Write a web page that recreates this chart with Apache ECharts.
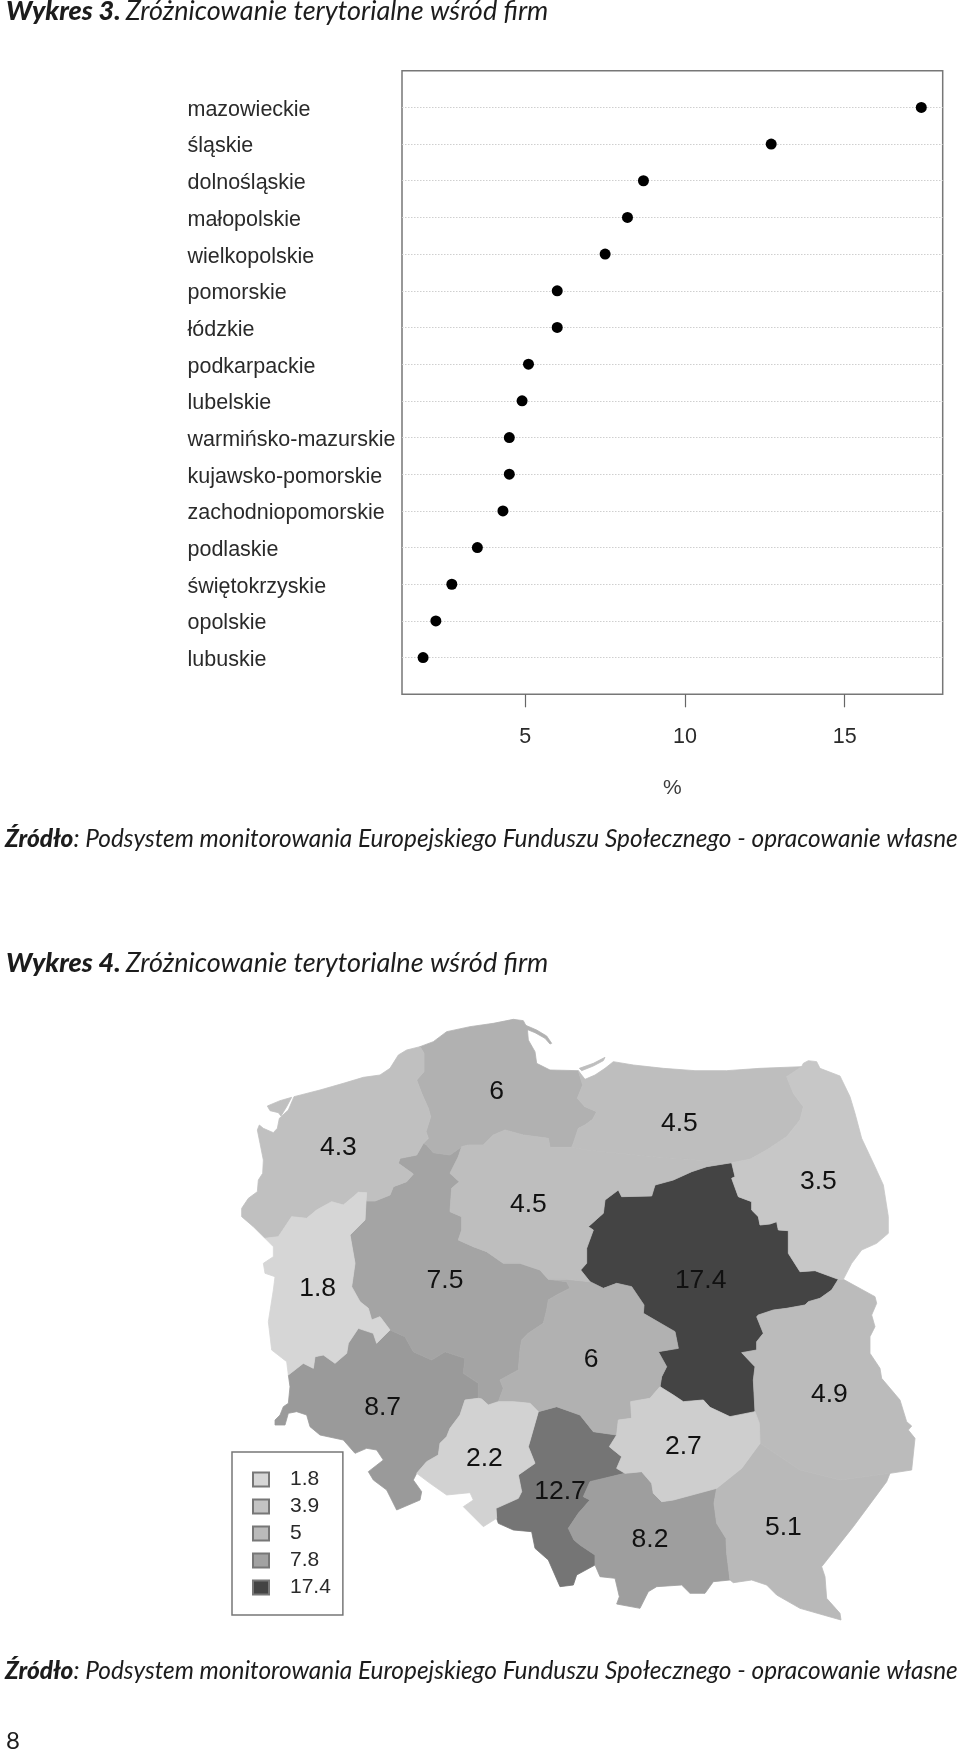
<!DOCTYPE html>
<html><head><meta charset="utf-8">
<style>html,body{margin:0;padding:0;background:#fff}#c{width:960px;height:1751px}</style>
<script src="https://cdn.jsdelivr.net/npm/echarts@6/dist/echarts.min.js"></script>
</head><body><div id="c"></div>
<script>
// ---- data ----
const regions = ['mazowieckie','śląskie','dolnośląskie','małopolskie','wielkopolskie','pomorskie','łódzkie','podkarpackie','lubelskie','warmińsko-mazurskie','kujawsko-pomorskie','zachodniopomorskie','podlaskie','świętokrzyskie','opolskie','lubuskie'];
const shares  = [17.4,12.7,8.7,8.2,7.5,6,6,5.1,4.9,4.5,4.5,4.3,3.5,2.7,2.2,1.8];
const xTicks = [5,10,15];
const legendValues = ['1.8','3.9','5','7.8','17.4'];
const titleA = 'Wykres 3.', titleB = 'Wykres 4.', titleRest = 'Zróżnicowanie terytorialne wśród firm';
const sourceHead = 'Źródło', sourceRest = ': Podsystem monitorowania Europejskiego Funduszu Społecznego - opracowanie własne';

// ---- value to grey scale ----
const scaleValues = [1.8,5.1,8.7,12.7,17.4];
const scaleGreys  = [214,185,154,117,68];
function grey(v){
  let i=0; while(i<scaleValues.length-2 && v>scaleValues[i+1]) i++;
  const t=(v-scaleValues[i])/(scaleValues[i+1]-scaleValues[i]);
  const g=Math.round(scaleGreys[i]+t*(scaleGreys[i+1]-scaleGreys[i]));
  return 'rgb('+g+','+g+','+g+')';
}

// ---- map outline: shared borders in map units (3 units = 1 px) ----
const arcs = {
 coastZ:[[600,140],[560,150],[535,165],[510,205],[480,225],[430,232],[370,250],[300,270],[222,290],[205,330],[178,355],[172,385],[160,398],[130,385],[118,375],[112,390],[120,430],[130,480],[128,520],[115,540],[112,575],[85,595],[65,625],[65,650],[100,680],[135,715]],
 zl:[[135,715],[175,710],[195,680],[215,650],[260,655],[290,630],[335,605],[370,615],[400,590],[415,577],[440,578],[438,603]],
 zw:[[438,603],[465,603],[510,585],[520,560],[560,545],[580,522],[535,490],[540,475],[590,465],[610,430]],
 zp:[[610,430],[625,415],[618,395],[632,350],[625,325],[605,280],[590,240],[612,215],[612,160],[600,140]],
 coastP:[[600,140],[640,125],[680,95],[750,80],[820,70],[880,58],[910,62],[922,85],[925,120],[945,155],[950,190],[990,210],[1075,212]],
 pm:[[1075,212],[1088,255],[1072,295],[1095,320],[1130,335],[1118,358],[1095,375],[1075,385],[1060,430],[1055,442]],
 pk:[[1055,442],[990,442],[985,415],[910,405],[855,390],[820,405],[790,435],[745,435],[725,440]],
 pw:[[725,440],[690,465],[640,458],[620,435],[610,430]],
 coastM:[[1075,212],[1095,238],[1125,225],[1155,205],[1180,185],[1240,195],[1330,205],[1425,212],[1520,212],[1620,205],[1745,200]],
 mp:[[1745,200],[1700,230],[1720,280],[1750,320],[1740,360],[1700,410],[1640,450],[1590,478],[1535,488]],
 kw:[[1535,488],[1300,470],[1100,450],[1055,442]],
 outerPd:[[1745,200],[1750,190],[1765,182],[1790,185],[1800,205],[1860,228],[1890,290],[1905,340],[1925,415],[1965,500],[1990,555],[2005,650],[2005,700],[1970,730],[1925,750],[1895,790],[1870,838],[1855,838]],
 md:[[1535,488],[1545,530],[1535,535],[1555,590],[1595,605],[1595,630],[1615,650],[1620,675],[1650,672],[1670,665],[1675,690],[1705,692],[1705,760],[1740,815],[1785,812],[1855,838]],
 mlb:[[1855,838],[1835,870],[1800,895],[1765,905],[1755,915],[1700,925],[1660,930],[1615,945],[1610,950],[1630,1000],[1610,1025],[1610,1050],[1565,1058],[1605,1100],[1600,1140],[1605,1235]],
 ms:[[1605,1235],[1530,1250],[1470,1222],[1450,1200],[1390,1205],[1360,1185],[1320,1160]],
 ml:[[1320,1160],[1325,1130],[1340,1100],[1315,1055],[1375,1045],[1365,995],[1270,940],[1272,915],[1235,860],[1190,850],[1150,865],[1110,845]],
 mk:[[1110,845],[1082,810],[1100,790],[1100,745],[1120,690],[1105,680],[1150,640],[1155,600],[1195,570],[1205,590],[1295,588],[1305,555],[1360,540],[1415,515],[1460,500],[1535,488]],
 kl:[[1110,845],[1040,838],[985,838]],
 kwk:[[725,440],[715,470],[690,520],[718,545],[695,565],[690,635],[725,650],[725,690],[715,720],[760,740],[800,755],[850,790],[900,790],[960,810],[985,838]],
 wl:[[985,838],[1040,845],[1050,865],[1010,885],[985,900],[980,930],[970,970],[925,1000],[905,1020],[900,1050],[895,1110],[840,1140],[850,1165],[835,1205]],
 wo:[[835,1205],[805,1215],[785,1197],[775,1195]],
 wd:[[510,990],[555,1010],[580,1055],[635,1080],[675,1055],[735,1075],[730,1120],[775,1150],[775,1195]],
 lw:[[438,603],[435,660],[390,705],[405,790],[395,860],[420,905],[445,925],[455,960],[480,950],[510,990]],
 lo:[[835,1205],[880,1205],[930,1210],[955,1235]],
 dop:[[775,1195],[735,1200],[720,1245],[690,1285],[680,1310],[660,1330],[655,1365],[620,1385],[590,1420]],
 outerO:[[590,1420],[630,1450],[680,1485],[750,1478],[760,1500],[730,1520],[760,1550],[790,1580],[830,1555]],
 os:[[830,1555],[828,1525],[895,1495],[905,1475],[895,1425],[945,1390],[925,1340],[955,1235]],
 outerS:[[830,1555],[835,1570],[880,1590],[935,1595],[945,1645],[985,1680],[1020,1760],[1060,1755],[1070,1725],[1125,1695]],
 slml:[[1125,1695],[1125,1665],[1080,1635],[1062,1620],[1045,1585],[1075,1540],[1110,1500],[1090,1490],[1110,1445],[1215,1420]],
 slsw:[[1215,1420],[1190,1405],[1205,1370],[1168,1340],[1190,1305]],
 lsl:[[955,1235],[1010,1220],[1080,1245],[1120,1295],[1190,1305]],
 lsw:[[1190,1305],[1195,1260],[1235,1255],[1232,1205],[1290,1195],[1320,1160]],
 swml:[[1215,1420],[1265,1415],[1295,1450],[1300,1480],[1325,1505],[1360,1500],[1490,1465]],
 swpk:[[1490,1465],[1565,1405],[1620,1330]],
 swlb:[[1620,1330],[1618,1270],[1605,1235]],
 outerLb:[[1855,838],[1870,838],[1965,890],[1970,910],[1955,945],[1965,980],[1950,1010],[1950,1060],[1980,1105],[1985,1135],[2040,1200],[2060,1265],[2075,1278],[2065,1290],[2085,1315],[2075,1410],[2010,1420]],
 lbpk:[[2010,1420],[1860,1440],[1740,1410],[1620,1330]],
 outerPk:[[2010,1420],[2000,1445],[1900,1580],[1805,1700],[1815,1730],[1820,1795],[1860,1840],[1863,1860],[1810,1845],[1740,1825],[1670,1785],[1640,1755],[1595,1740],[1540,1748],[1530,1740]],
 pkml:[[1530,1740],[1520,1660],[1518,1615],[1490,1570],[1482,1510],[1490,1465]],
 outerMl:[[1530,1740],[1480,1745],[1455,1780],[1410,1780],[1385,1755],[1310,1760],[1285,1775],[1260,1825],[1190,1812],[1198,1790],[1185,1735],[1140,1730],[1125,1695]],
 outerL:[[135,715],[160,740],[160,770],[130,790],[135,820],[165,830],[160,870],[145,965],[155,1050],[200,1085],[205,1125]],
 ld:[[205,1125],[250,1090],[280,1105],[285,1070],[310,1065],[345,1090],[380,1060],[385,1030],[415,985],[460,1000],[470,1030],[510,990]],
 outerD:[[205,1125],[210,1160],[205,1210],[190,1220],[180,1245],[165,1260],[165,1275],[195,1275],[205,1240],[230,1235],[260,1245],[270,1280],[300,1305],[370,1320],[405,1360],[440,1345],[470,1350],[490,1380],[445,1415],[460,1440],[500,1470],[530,1530],[600,1500],[605,1475],[580,1440],[590,1420]]
};
const islands = {
 'zachodniopomorskie':[[[215,292],[180,302],[142,318],[150,332],[175,338],[183,348],[200,320]]],
 'pomorskie':[[[915,75],[950,90],[980,108],[995,130],[990,132],[975,115],[945,98],[920,88]]],
 'warmińsko-mazurskie':[[[1078,205],[1120,190],[1155,172],[1150,182],[1120,198],[1085,212]]]
};
// "-" means the border is walked backwards
const rings = {
 'zachodniopomorskie':['coastZ','zl','zw','zp'],
 'pomorskie':['coastP','pm','pk','pw','zp'],
 'warmińsko-mazurskie':['coastM','mp','kw','-pm'],
 'podlaskie':['outerPd','-md','-mp'],
 'kujawsko-pomorskie':['-pk','-kw','-mk','kl','-kwk'],
 'wielkopolskie':['-zw','lw','wd','-wo','-wl','-kwk','pw'],
 'lubuskie':['-zl','outerL','ld','-lw'],
 'dolnośląskie':['-ld','outerD','-dop','-wd'],
 'opolskie':['dop','outerO','os','-lo','wo'],
 'łódzkie':['-kl','-ml','-lsw','-lsl','-lo','-wl'],
 'mazowieckie':['md','mlb','ms','ml','mk'],
 'lubelskie':['outerLb','lbpk','-swlb','-mlb'],
 'podkarpackie':['-lbpk','outerPk','pkml','swpk'],
 'świętokrzyskie':['-ms','-swlb','-swpk','-swml','slsw','lsw'],
 'małopolskie':['swml','-pkml','outerMl','slml'],
 'śląskie':['-os','outerS','slml','slsw','-lsl']
};
const labelPoints = {
 'zachodniopomorskie':[355,443],'pomorskie':[830,275],'warmińsko-mazurskie':[1378,371],'podlaskie':[1795,545],
 'kujawsko-pomorskie':[925,615],'wielkopolskie':[675,841],'lubuskie':[293,865],'mazowieckie':[1442,841],
 'dolnośląskie':[488,1223],'łódzkie':[1113,1078],'lubelskie':[1828,1183],'opolskie':[793,1375],
 'świętokrzyskie':[1390,1340],'śląskie':[1020,1475],'małopolskie':[1290,1620],'podkarpackie':[1690,1583]
};
const flip = p => [p[0], -p[1]];
function ringOf(list){
  const out=[];
  list.forEach(a=>{
    const rev=a[0]==='-', pts=arcs[rev?a.slice(1):a];
    (rev?pts.slice().reverse():pts).forEach(p=>out.push(flip(p)));
  });
  out.push(out[0]);
  return out;
}
const geo = {type:'FeatureCollection',features:regions.map(name=>{
  const polys=[[ringOf(rings[name])]];
  (islands[name]||[]).forEach(r=>{const q=r.map(flip);q.push(q[0]);polys.push([q]);});
  return {type:'Feature',properties:{name:name,cp:flip(labelPoints[name])},geometry:{type:'MultiPolygon',coordinates:polys}};
})};
echarts.registerMap('polska',geo);

const txt='#1c1c1c', sans='"Liberation Sans",Arial,sans-serif', cal='Lato,sans-serif';
const richHead={b:{fontFamily:cal,fontStyle:'italic',fontWeight:900,fontSize:27,color:txt},i:{fontFamily:cal,fontStyle:'italic',fontWeight:400,fontSize:27,color:txt}};
const richSrc={b:{fontFamily:cal,fontStyle:'italic',fontWeight:900,fontSize:24.4,color:txt},i:{fontFamily:cal,fontStyle:'italic',fontWeight:400,fontSize:24.4,color:txt}};
const head=(t,top)=>({left:6,top:top,padding:0,text:'{b|'+t+'} {i|'+titleRest+'}',textStyle:{rich:richHead}});
const src=top=>({left:5,top:top,padding:0,text:'{b|'+sourceHead+'}{i|'+sourceRest+'}',textStyle:{rich:richSrc}});

const chart=echarts.init(document.getElementById('c'),null,{renderer:'canvas'});
chart.setOption({
  animation:false,
  backgroundColor:'#fff',
  title:[head(titleA,-2),src(827),head(titleB,950),src(1659),
    {left:6,top:1729,padding:0,text:'8',textStyle:{fontFamily:cal,fontWeight:400,fontSize:24,color:txt}}],
  grid:{left:402,top:70.7,width:540.7,height:623.6,show:true,borderColor:'#777',borderWidth:1.5,backgroundColor:'transparent'},
  xAxis:{type:'value',min:1.14,max:18.07,
    name:'%',nameLocation:'middle',nameGap:94,nameTextStyle:{fontFamily:sans,fontSize:21,color:'#3c3c3c',verticalAlign:'middle'},
    axisLine:{show:false},
    axisTick:{show:true,length:13,customValues:xTicks,lineStyle:{color:'#666',width:1.2}},
    axisLabel:{show:true,margin:32,fontFamily:sans,fontSize:21.5,color:'#2a2a2a',customValues:xTicks,formatter:'{value}'},
    splitLine:{show:false}},
  yAxis:{type:'category',inverse:true,boundaryGap:false,data:[''].concat(regions,['']),
    axisLine:{show:false},axisTick:{show:false},
    axisLabel:{interval:0,align:'left',margin:214.5,
      formatter:v=>v?'{a|'+v+'}':'',
      rich:{a:{fontFamily:sans,fontSize:21.5,color:'#2a2a2a',padding:[5,0,0,0]}}},
    splitLine:{show:true,interval:i=>i>0&&i<=regions.length,lineStyle:{color:'#cfcfcf',type:[1.5,1.5],width:1}}},
  legend:{left:232,top:1452,orient:'vertical',padding:[17,12,17,20],itemWidth:16,itemHeight:14,itemGap:6,
    backgroundColor:'#fff',borderColor:'#777',borderWidth:1.5,selectedMode:false,
    textStyle:{fontFamily:sans,fontSize:21,color:'#2a2a2a',padding:[0,0,0,16]},
    icon:'rect',data:legendValues},
  series:[
    {type:'scatter',name:'dots',data:shares.map((v,i)=>[v,regions[i]]),symbol:'circle',symbolSize:11,itemStyle:{color:'#000',opacity:1},silent:true,z:5},
    {type:'map',map:'polska',silent:true,aspectScale:1,left:220,top:1000,width:720,height:650,
      boundingCoords:[[0,0],[2160,-1950]],roam:false,selectedMode:false,showLegendSymbol:false,
      label:{show:true,formatter:'{c}',fontFamily:sans,fontSize:26.5,color:'#111'},
      data:regions.map((n,i)=>({name:n,value:shares[i],
        itemStyle:{areaColor:grey(shares[i]),borderColor:grey(shares[i]),borderWidth:0.8}}))}
  ].concat(legendValues.map(v=>({type:'scatter',name:v,data:[],
      itemStyle:{color:grey(parseFloat(v)),opacity:1,borderColor:'#777',borderWidth:1}})))
});
</script></body></html>
